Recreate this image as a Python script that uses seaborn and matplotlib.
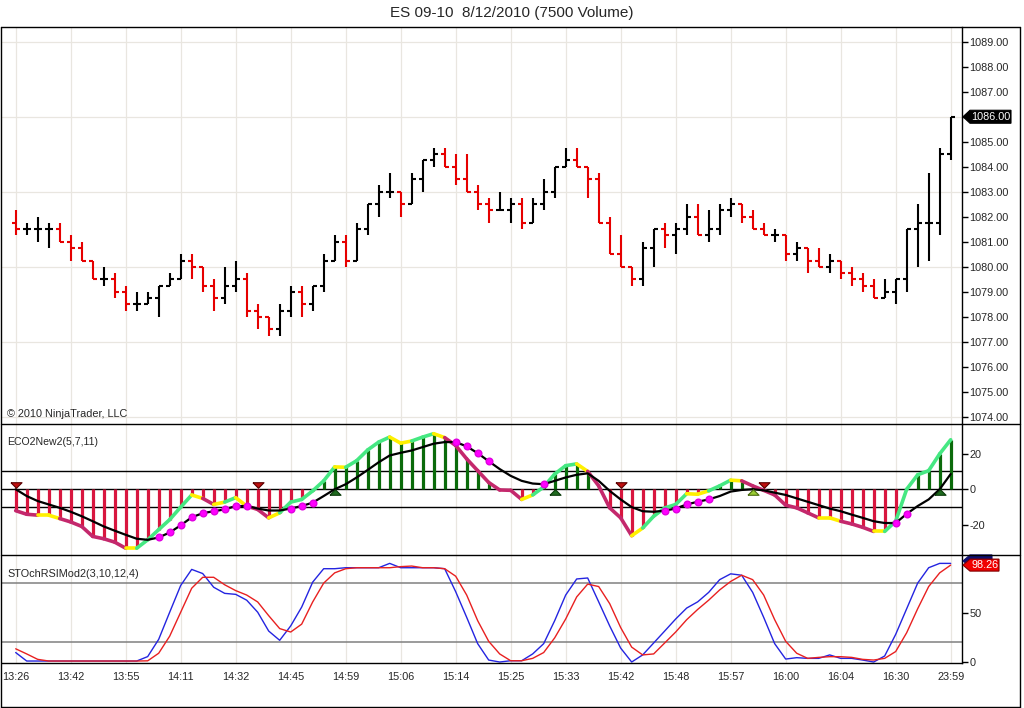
import numpy as np
import pandas as pd
import matplotlib.pyplot as plt
import seaborn as sns
from matplotlib.collections import LineCollection
from matplotlib.patches import Polygon
from matplotlib.lines import Line2D

W, H = 1024, 708

# --- price bars (ES 09-10, 7500 volume bars) ---
opens = [1081.75, 1081.5, 1081.5, 1081.5, 1081.5, 1081.0, 1080.75, 1080.25, 1079.5, 1079.5,
         1079.0, 1078.5, 1078.5, 1078.75, 1079.25, 1079.5, 1080.25, 1080.0, 1079.25, 1078.75,
         1079.25, 1079.5, 1078.25, 1078.0, 1077.5, 1078.25, 1079.0, 1078.5, 1079.25, 1080.25,
         1081.0, 1080.25, 1081.5, 1082.5, 1083.0, 1083.0, 1082.5, 1083.5, 1084.25, 1084.5,
         1084.0, 1083.5, 1083.0, 1082.5, 1082.25, 1082.25, 1082.5, 1081.75, 1082.5, 1083.0,
         1084.0, 1084.25, 1084.0, 1083.5, 1081.75, 1080.5, 1080.0, 1079.5, 1080.75, 1081.5,
         1081.25, 1081.5, 1082.0, 1081.25, 1081.5, 1082.25, 1082.5, 1082.0, 1081.5, 1081.25,
         1081.25, 1080.5, 1080.75, 1080.25, 1080.0, 1080.25, 1079.75, 1079.5, 1079.25, 1078.75,
         1079.0, 1079.5, 1081.5, 1081.75, 1081.75, 1084.5]
highs = [1082.25, 1081.75, 1082.0, 1081.75, 1081.75, 1081.25, 1081.0, 1080.25, 1080.0, 1079.75,
         1079.25, 1079.0, 1079.0, 1079.25, 1079.75, 1080.5, 1080.5, 1080.0, 1079.5, 1080.0,
         1080.25, 1079.75, 1078.5, 1078.0, 1078.5, 1079.25, 1079.25, 1079.25, 1080.5, 1081.25,
         1081.25, 1081.75, 1082.5, 1083.25, 1083.75, 1083.0, 1083.75, 1084.25, 1084.75, 1084.75,
         1084.5, 1084.5, 1083.25, 1082.75, 1083.0, 1082.75, 1082.75, 1082.75, 1083.5, 1084.0,
         1084.75, 1084.75, 1084.0, 1083.75, 1082.0, 1081.25, 1080.0, 1081.0, 1081.5, 1081.75,
         1081.75, 1082.5, 1082.5, 1082.25, 1082.5, 1082.75, 1082.5, 1082.25, 1081.75, 1081.5,
         1081.25, 1081.0, 1080.75, 1080.75, 1080.5, 1080.25, 1080.0, 1079.75, 1079.5, 1079.5,
         1079.5, 1081.5, 1082.5, 1083.75, 1084.75, 1086.0]
lows = [1081.25, 1081.25, 1081.0, 1080.75, 1081.0, 1080.25, 1080.25, 1079.5, 1079.25, 1078.75,
        1078.25, 1078.25, 1078.5, 1078.0, 1079.25, 1079.5, 1079.5, 1079.0, 1078.25, 1078.5,
        1079.0, 1078.0, 1077.5, 1077.25, 1077.25, 1078.0, 1078.0, 1078.25, 1079.0, 1080.25,
        1080.0, 1080.25, 1081.25, 1082.0, 1082.75, 1082.0, 1082.5, 1083.0, 1084.0, 1084.0,
        1083.25, 1083.0, 1082.25, 1081.75, 1082.25, 1081.75, 1081.5, 1081.75, 1082.25, 1082.75,
        1084.0, 1084.0, 1082.75, 1081.75, 1080.5, 1080.0, 1079.25, 1079.25, 1080.0, 1080.75,
        1080.5, 1081.25, 1081.25, 1081.0, 1081.25, 1082.0, 1081.75, 1081.5, 1081.25, 1081.0,
        1080.25, 1080.25, 1079.75, 1080.0, 1079.75, 1079.5, 1079.25, 1079.0, 1078.75, 1078.75,
        1078.5, 1079.0, 1080.0, 1080.25, 1081.25, 1084.25]
closes = [1081.5, 1081.5, 1081.5, 1081.5, 1081.0, 1080.75, 1080.25, 1079.5, 1079.5, 1079.0,
          1078.5, 1078.5, 1078.75, 1079.25, 1079.5, 1080.25, 1080.0, 1079.25, 1078.75, 1079.25,
          1079.5, 1078.25, 1078.0, 1077.5, 1078.25, 1079.0, 1078.5, 1079.25, 1080.25, 1081.0,
          1080.25, 1081.5, 1082.5, 1083.0, 1083.0, 1082.5, 1083.5, 1084.25, 1084.5, 1084.0,
          1083.5, 1083.0, 1082.5, 1082.25, 1082.25, 1082.5, 1081.75, 1082.5, 1083.0, 1084.0,
          1084.25, 1084.0, 1083.5, 1081.75, 1080.5, 1080.0, 1079.5, 1080.75, 1081.5, 1081.25,
          1081.5, 1082.0, 1081.25, 1081.5, 1082.25, 1082.5, 1082.0, 1081.5, 1081.25, 1081.25,
          1080.5, 1080.75, 1080.25, 1080.0, 1080.25, 1079.75, 1079.5, 1079.25, 1078.75, 1079.0,
          1079.5, 1081.5, 1081.75, 1081.75, 1084.5, 1086.0]

time_labels = ['13:26', '13:42', '13:55', '14:11', '14:32', '14:45', '14:59', '15:06', '15:14',
               '15:25', '15:33', '15:42', '15:48', '15:57', '16:00', '16:04', '16:30', '23:59']

# --- ECO2New2(5,7,11) ---
eco = [-12, -14, -14.5, -14.5, -16.4, -18.3, -20.8, -26.4, -27.7, -29.6,
       -33, -33, -28.3, -22.6, -17, -10, -3.2, -5.1, -8.5, -7.2,
       -4.7, -9.4, -11.3, -16, -13.2, -7.2, -5.7, -0.9, 4.7, 12.5,
       12.3, 16, 22, 26.4, 29.2, 25.8, 27, 29.2, 31.1, 28.9,
       24.5, 17, 10.4, 3.8, -0.4, -0.6, -5.7, -3.2, 1.3, 8.5,
       13.2, 14.2, 10, 1.9, -10.4, -16, -26, -21.7, -15.1, -10.5,
       -8.5, -2.5, -2.8, -0.9, 1.9, 5.1, 4.7, 1.9, -0.6, -3.2,
       -8.9, -10.4, -13.2, -16, -16, -17.9, -19.4, -21.3, -23.6, -23.6,
       -17.9, 0, 8.1, 10.4, 19.8, 27.7]
eco_signal = [0, -3.8, -6.6, -8.5, -10.4, -12.6, -15.1, -17.9, -20.8, -23.2,
              -25.5, -27.7, -28.3, -27, -24.2, -20.2, -15.7, -13.4, -12.3, -11.3,
              -9.4, -9.4, -10.8, -11.9, -11.9, -10.8, -9.4, -7.5, -3.8, 0,
              2.8, 6.6, 10.8, 15.1, 18.9, 20.4, 21.7, 23.6, 25.5, 26.4,
              26.4, 24, 20.2, 15.7, 11.3, 7.5, 4.7, 3.2, 2.8, 4.7,
              6.6, 8.1, 8.9, 4.7, -0.9, -5.7, -10, -12.3, -12.6, -12,
              -10.8, -8.5, -7, -5.7, -3.8, -1.3, -0.4, 0, -0.6, -1.9,
              -3.2, -5.1, -7, -8.9, -10.8, -12.3, -14.2, -16, -17.9, -18.9,
              -18.9, -13.8, -9.4, -5.7, 0, 8.5]
# state of each segment (bar i-1 -> bar i): u = rising, d = falling, f = turning
eco_state = ("ddffdddddd" "fuuuuufdfu" "fddfuuuuuf" "uuuuffuufd"
             "ddddddfuuu" "ufddddfuuu" "uffuufdddd" "dddffdddfu"
             "uuuuu")
eco_dots = [13, 14, 15, 16, 17, 18, 19, 20, 21, 25, 26, 27, 40, 41, 42, 43, 48,
            59, 60, 61, 62, 63, 80, 81]
eco_sell = [0, 22, 55, 68]
eco_buy = [29, 49, 84]
eco_buy_weak = [67]

# --- STOchRSIMod2(3,10,12,4) ---
stoch_k = [9.6, 1, 1, 1, 1, 1, 1, 1, 1, 1,
           1, 1, 5.5, 23, 50.5, 77.6, 93.9, 89.7, 75.8, 69.6,
           68.6, 62.7, 50.5, 31.4, 22, 36.6, 55.7, 81, 94.6, 94.6,
           95.6, 95.6, 95.6, 95.6, 100, 95.6, 95.6, 95.6, 95.6, 94.6,
           71.3, 45.3, 18.6, 2, 0, 1.3, 1.3, 8.2, 18.6, 41.9,
           67.9, 84.2, 85.2, 61, 36.6, 14.1, 0, 7.2, 19.3, 31.4,
           43.6, 54.7, 61, 70.6, 83.5, 89.4, 88, 70.6, 45.3, 18.6,
           3, 4.4, 3.7, 3.7, 7.2, 3.7, 3.7, 2, 0, 6.1,
           28, 54, 80, 95.6, 100, 100]
stoch_d = [13.4, 8.2, 2.7, 1, 1, 1, 1, 1, 1, 1,
           1, 1, 1.2, 8.9, 26.2, 50.5, 74.8, 85.9, 85.9, 78.3,
           72.4, 67.9, 60.9, 47, 33.9, 30.4, 38.4, 60.9, 80, 90.4,
           94.6, 95.6, 95.6, 95.6, 95.6, 96.7, 97.3, 95.6, 95.6, 94.6,
           87, 67.9, 41.9, 21, 8.2, 1.3, 1.3, 3.7, 9.6, 24.5,
           43.6, 66, 79, 76.5, 59.2, 34.9, 15.1, 7.2, 8.2, 19.3,
           30.4, 42.9, 53.3, 62.7, 73.1, 81.7, 88, 83.5, 67.9, 42.9,
           21, 8.9, 3.7, 4.7, 5.4, 5.4, 4.7, 2.7, 2, 3.7,
           10.6, 29.7, 54, 76.5, 90.4, 98.26]

bars = np.arange(len(closes))
opens, highs, lows, closes = map(np.array, (opens, highs, lows, closes))
eco = np.array(eco)

sns.set_style("white")
plt.rcParams['font.family'] = ['Liberation Sans', 'DejaVu Sans']
plt.rcParams['axes.unicode_minus'] = False

fig = plt.figure(figsize=(W / 100, H / 100), dpi=100)
fig.patch.set_facecolor('white')


def panel(top, bottom):
    return fig.add_axes([2 / W, 1 - bottom / H, 960 / W, (bottom - top) / H])


ax1 = panel(27, 423.5)
ax2 = panel(423.5, 555)
ax3 = panel(555, 663)

GRID = '#E9E6E0'
for ax in (ax1, ax2, ax3):
    ax.set_xlim(-1.245, 86.03)
    for s in ax.spines.values():
        s.set_visible(False)
    ax.spines['right'].set_visible(True)
    ax.spines['right'].set_color('black')
    ax.spines['right'].set_linewidth(1)
    ax.set_xticks(range(0, 86, 5))
    ax.grid(axis='x', color=GRID, lw=0.9)
    ax.set_axisbelow(True)
    ax.yaxis.tick_right()
    ax.tick_params(axis='y', direction='out', length=4, width=1, color='black',
                   labelsize=7.8, pad=1.5)
    ax.tick_params(axis='x', length=0, labelbottom=False)

# price panel
ax1.set_ylim(1073.73, 1089.59)
ax1.set_yticks(np.arange(1074, 1090))
ax1.set_yticklabels([f"{v:.2f}" for v in np.arange(1074, 1090)])
for lvl in range(1074, 1090, 3):
    ax1.axhline(lvl, color=GRID, lw=0.9, zorder=0)
bar_col = np.where(closes < opens, '#E60000', 'black')
ax1.vlines(bars, lows, highs, colors=bar_col, lw=1.5, capstyle='butt')
ax1.hlines(opens, bars - 0.36, bars, colors=bar_col, lw=1.5)
ax1.hlines(closes, bars, bars + 0.36, colors=bar_col, lw=1.5)

# ECO panel
ax2.set_ylim(-36.8, 36.8)
ax2.set_yticks([-20, 0, 20])
for lvl in (-10, 0, 10):
    ax2.axhline(lvl, color='black', lw=1, zorder=1)
hist_col = np.where(eco > 0, '#0B6B0B', '#D8163F')
ax2.vlines(bars, 0, eco, colors=hist_col, lw=2.3, zorder=2)
state_col = {'u': '#45E882', 'd': '#C4286C', 'f': '#FFF000'}
pts = np.column_stack([bars, eco])
segs = [pts[i - 1:i + 1] for i in range(1, len(bars))]
ax2.add_collection(LineCollection(segs, colors=[state_col[c] for c in eco_state],
                                  linewidths=2.6, capstyle='round', zorder=3))
sig_df = pd.DataFrame({'bar': bars, 'signal': eco_signal})
sns.lineplot(data=sig_df, x='bar', y='signal', ax=ax2, color='black', lw=1.6,
             legend=False, zorder=4)
ax2.plot(bars[eco_dots], np.array(eco_signal)[eco_dots], 'o', color='#FF00FF',
         ms=4.8, mec='#E000E0', zorder=5)
down_tri = [(-1, 0.5), (1, 0.5), (0, -0.5), (-1, 0.5)]
up_tri = [(-1, -0.5), (1, -0.5), (0, 0.5), (-1, -0.5)]
ax2.plot(eco_sell, [2.2] * len(eco_sell), ls='none', marker=down_tri, ms=8,
         mfc='#C01010', mec='#5A0000', mew=0.8, zorder=6, clip_on=False)
ax2.plot(eco_buy, [-1.6] * len(eco_buy), ls='none', marker=up_tri, ms=8,
         mfc='#1F6B1F', mec='#0A3A0A', mew=0.8, zorder=6)
ax2.plot(eco_buy_weak, [-1.6] * len(eco_buy_weak), ls='none', marker=up_tri, ms=8,
         mfc='#9ACD32', mec='#4A6A10', mew=0.8, zorder=6)
ax2.set_xlabel('')
ax2.set_ylabel('')

# StochRSI panel
ax3.set_ylim(-1.0, 108.5)
ax3.set_yticks([0, 50])
ax3.spines['bottom'].set_visible(True)
ax3.spines['bottom'].set_color('black')
ax3.spines['bottom'].set_linewidth(1)
ax3.axhline(80, color='#808080', lw=1.1, zorder=1)
ax3.axhline(20, color='#808080', lw=1.1, zorder=1)
st_df = pd.DataFrame({'bar': bars, 'k': stoch_k, 'd': stoch_d})
sns.lineplot(data=st_df, x='bar', y='k', ax=ax3, color='#2424E0', lw=1.0, legend=False)
sns.lineplot(data=st_df, x='bar', y='d', ax=ax3, color='#E82020', lw=1.0, legend=False)
ax3.set_xticks(range(0, 86, 5))
ax3.set_xticklabels(time_labels)
ax3.tick_params(axis='x', length=5, width=1, color='black', labelbottom=True,
                labelsize=7.8, pad=1.5, direction='out')
ax3.set_xlabel('')
ax3.set_ylabel('')
ax1.set_ylabel('')


# value tags on the right axis
def value_tag(ax, value, text, fc, ec, right, half=6.5):
    y = ax.transData.transform((0, value))[1]
    verts = [(963, y), (970, y + half), (right, y + half), (right, y - half), (970, y - half)]
    fig.add_artist(Polygon([(vx / W, vy / H) for vx, vy in verts], closed=True,
                           fc=fc, ec=ec, lw=0.8, transform=fig.transFigure))
    if text:
        fig.text((971 + right) / 2 / W, y / H, text, color='white', ha='center',
                 va='center', fontsize=7.8)


value_tag(ax1, closes[-1], f"{closes[-1]:.2f}", 'black', 'black', 1011)
value_tag(ax3, stoch_k[-1] + 2.5, '', '#101070', '#101070', 992, half=6)
value_tag(ax3, stoch_d[-1], f"{stoch_d[-1]:.2f}", '#F00000', '#800000', 999, half=6)

# frame and panel separators
frame = [((1, 27), (1020, 27)), ((1, 707), (1020, 707)), ((1, 27), (1, 707)),
         ((1020, 27), (1020, 707)), ((1, 423.5), (1020, 423.5)), ((1, 555), (1020, 555))]
for (x0, y0), (x1, y1) in frame:
    fig.add_artist(Line2D([x0 / W, x1 / W], [1 - y0 / H, 1 - y1 / H], color='black',
                          lw=1, transform=fig.transFigure))

fig.text(512 / W, 1 - 13 / H, "ES 09-10  8/12/2010 (7500 Volume)", ha='center',
         va='center', fontsize=11)
fig.text(7 / W, 1 - 414 / H, "\u00a9 2010 NinjaTrader, LLC", ha='left', va='center',
         fontsize=7.8)
fig.text(7 / W, 1 - 442 / H, "ECO2New2(5,7,11)", ha='left', va='center', fontsize=7.6)
fig.text(7 / W, 1 - 574 / H, "STOchRSIMod2(3,10,12,4)", ha='left', va='center',
         fontsize=7.8)

fig.savefig('out.png', dpi=100, facecolor='white')
